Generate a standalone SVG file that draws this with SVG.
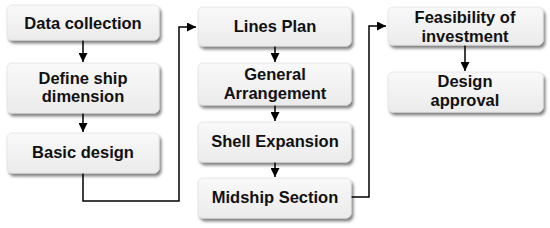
<svg xmlns="http://www.w3.org/2000/svg" width="550" height="228" viewBox="0 0 550 228">
<style>
.box{fill:url(#g);stroke:#e2e2e2;stroke-width:0.8;filter:url(#sh)}
.t{font-family:"Liberation Sans",Arial,sans-serif;font-weight:bold;font-size:16.5px;fill:#111;text-anchor:middle}
.c{fill:none;stroke:#000;stroke-width:1.5}
</style>
<defs>
<linearGradient id="g" x1="0" y1="0" x2="0" y2="1">
<stop offset="0" stop-color="#f9f9f9"/>
<stop offset="1" stop-color="#ebebeb"/>
</linearGradient>
<filter id="sh" x="-10%" y="-20%" width="125%" height="160%">
<feDropShadow dx="2" dy="3" stdDeviation="1.6" flood-color="#000" flood-opacity="0.5"/>
</filter>
<marker id="ah" viewBox="0 0 10 10" refX="10" refY="5" markerWidth="6" markerHeight="6" orient="auto" markerUnits="strokeWidth">
<path d="M0,0 L10,5 L0,10 Z" fill="#000"/>
</marker>
</defs>
<g id="connectors">
<path class="c" d="M83,40 V62" marker-end="url(#ah)"/>
<path class="c" d="M83,113 V132" marker-end="url(#ah)"/>
<path class="c" d="M83,173 V201 H179 V27 H196" marker-end="url(#ah)"/>
<path class="c" d="M275,46 V62" marker-end="url(#ah)"/>
<path class="c" d="M275,105 V121" marker-end="url(#ah)"/>
<path class="c" d="M275,162 V177" marker-end="url(#ah)"/>
<path class="c" d="M351,197 H369 V26 H386" marker-end="url(#ah)"/>
<path class="c" d="M465,45 V71" marker-end="url(#ah)"/>
</g>
<g id="data-collection"><rect class="box" x="7" y="5" width="152" height="35" rx="5"/><text class="t" x="83" y="29">Data collection</text></g>
<g id="define-ship-dimension"><rect class="box" x="7" y="63" width="152" height="50" rx="5"/><text class="t" x="83" y="84">Define ship</text><text class="t" x="83" y="102">dimension</text></g>
<g id="basic-design"><rect class="box" x="7" y="133" width="152" height="40" rx="5"/><text class="t" x="83" y="158">Basic design</text></g>
<g id="lines-plan"><rect class="box" x="198" y="7" width="153" height="39" rx="5"/><text class="t" x="275" y="32">Lines Plan</text></g>
<g id="general-arrangement"><rect class="box" x="198" y="63" width="153" height="42" rx="5"/><text class="t" x="275" y="80">General</text><text class="t" x="275" y="99">Arrangement</text></g>
<g id="shell-expansion"><rect class="box" x="198" y="122" width="153" height="40" rx="5"/><text class="t" x="275" y="147">Shell Expansion</text></g>
<g id="midship-section"><rect class="box" x="198" y="178" width="153" height="40" rx="5"/><text class="t" x="275" y="203">Midship Section</text></g>
<g id="feasibility-of-investment"><rect class="box" x="388" y="7" width="155" height="38" rx="5"/><text class="t" x="465" y="23">Feasibility of</text><text class="t" x="465" y="42">investment</text></g>
<g id="design-approval"><rect class="box" x="388" y="72" width="155" height="40" rx="5"/><text class="t" x="465" y="87">Design</text><text class="t" x="465" y="106">approval</text></g>
</svg>
